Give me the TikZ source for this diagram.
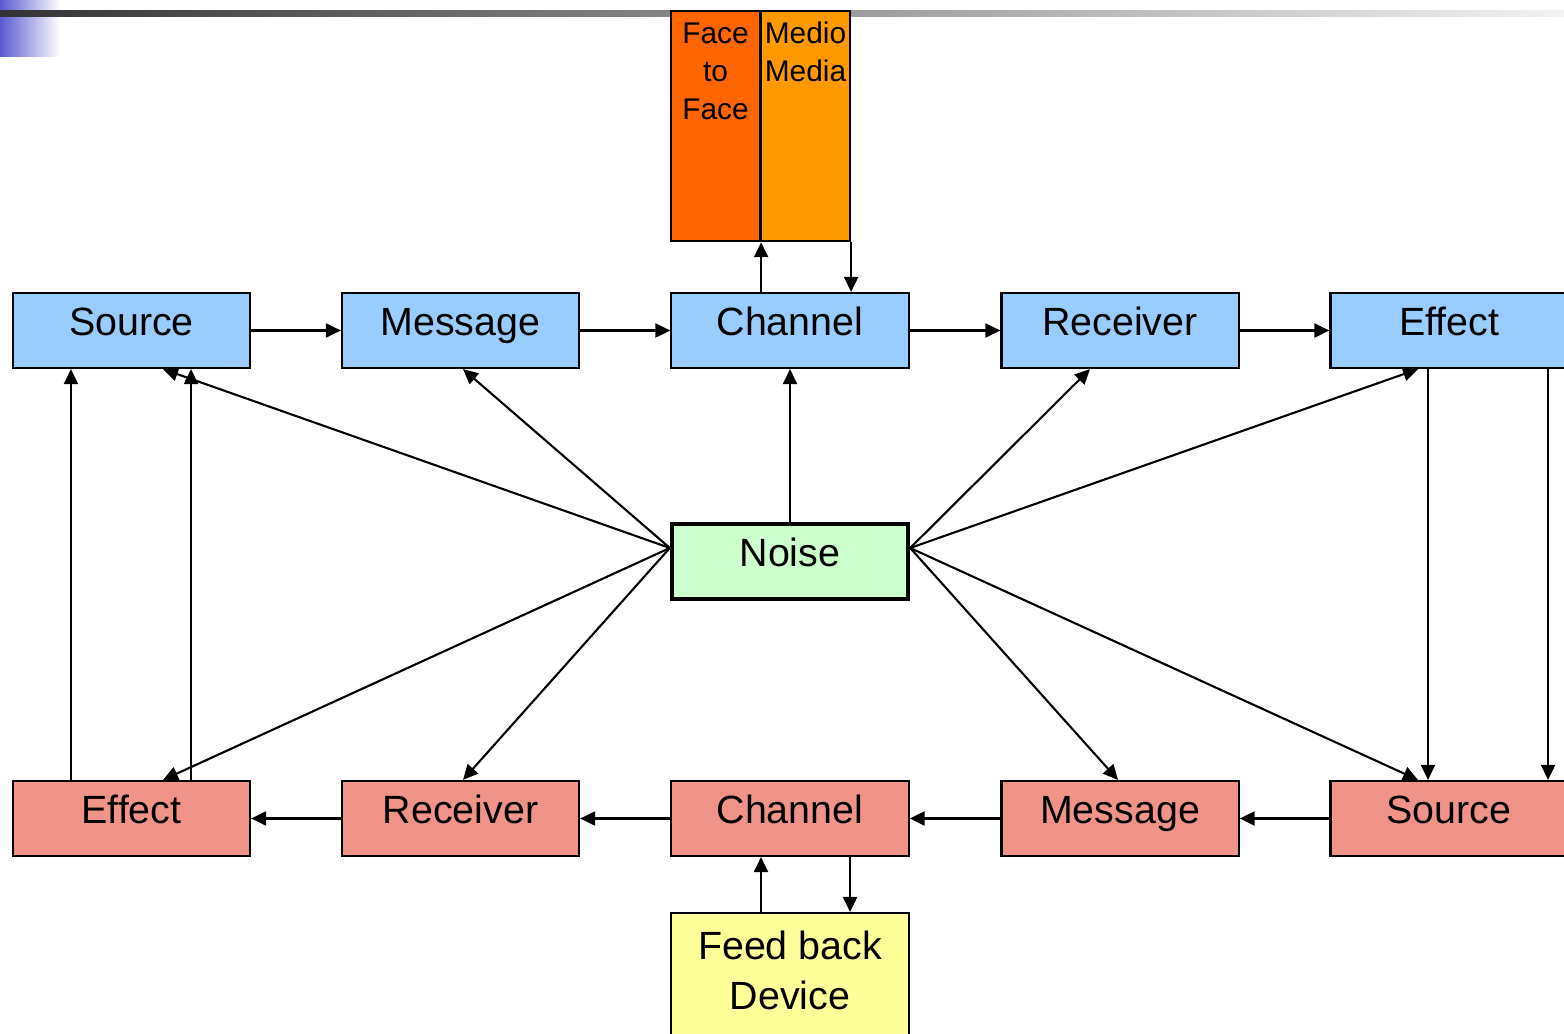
\documentclass[tikz,border=0pt]{standalone}
\usepackage{fontspec}
\setmainfont{Liberation Sans}
\usetikzlibrary{arrows.meta}
\definecolor{topblue}{HTML}{99CCFF}
\definecolor{lowred}{RGB}{240,148,138}
\definecolor{noisegreen}{HTML}{CCFFCC}
\definecolor{faceorange}{HTML}{FF6600}
\definecolor{medioorange}{HTML}{FF9900}
\definecolor{fbyellow}{HTML}{FFFF99}
\definecolor{headblue}{RGB}{90,90,210}
\begin{document}
\begin{tikzpicture}[x=0.01cm, y=-0.01cm,
	box/.style={draw, line width=0.6pt, minimum width=2.37cm, minimum height=0.75cm, inner sep=0pt,
		text height=0.32cm, text depth=0.22cm, font=\fontsize{11.2}{13.5}\selectfont},
	upper/.style={box, fill=topblue},
	lower/.style={box, fill=lowred},
	tall/.style={draw, line width=0.6pt, anchor=north, minimum width=0.89cm, inner xsep=0pt, inner ysep=0.05cm,
		align=center, font=\fontsize{8.5}{10.8}\selectfont},
	arr/.style={-{Triangle[length=0.15cm,width=0.14cm]}, line width=0.6pt}]
	\useasboundingbox (0,0) rectangle (1564,1034);
	
	\shade[left color=headblue, right color=white] (0,0) rectangle (60,57);
	\shade[left color=black!80, right color=black!5] (0,11) rectangle (1564,17);
	
	\node[upper] (srcT) at (131.5,330.5) {Source};
	\node[upper] (msgT) at (460.5,330.5) {Message};
	\node[upper] (chT) at (790,330.5) {Channel};
	\node[upper] (rcvT) at (1120,330.5) {Receiver};
	\node[upper] (effT) at (1449,330.5) {Effect};
	
	\node[lower] (effB) at (131.5,818.5) {Effect};
	\node[lower] (rcvB) at (460.5,818.5) {Receiver};
	\node[lower] (chB) at (790,818.5) {Channel};
	\node[lower] (msgB) at (1120,818.5) {Message};
	\node[lower] (srcB) at (1449,818.5) {Source};
	
	\node[box, fill=noisegreen, line width=1.2pt, minimum width=2.36cm] (noise) at (790,561.5) {Noise};
	
	\node[tall, fill=faceorange, text height=1.035cm, text depth=1.165cm] (face) at (715.5,10) {Face\\to\\Face};
	\node[tall, fill=medioorange, text height=0.655cm, text depth=1.545cm] (medio) at (805.5,10) {Medio\\Media};
	
	\node[draw, line width=0.6pt, anchor=north, fill=fbyellow, minimum width=2.37cm, inner xsep=0pt, inner ysep=0.14cm,
		align=center, text height=0.82cm, text depth=0.5cm, font=\fontsize{11.2}{14.2}\selectfont] (fb) at (790,912) {Feed back\\Device};
	
	\coordinate (nw) at ([yshift=0.135cm]noise.west);
	\coordinate (ne) at ([yshift=0.135cm]noise.east);
	
	\draw[arr] (srcT) -- (msgT);
	\draw[arr] (msgT) -- (chT);
	\draw[arr] (chT) -- (rcvT);
	\draw[arr] (rcvT) -- (effT);
	
	\draw[arr] (srcB) -- (msgB);
	\draw[arr] (msgB) -- (chB);
	\draw[arr] (chB) -- (rcvB);
	\draw[arr] (rcvB) -- (effB);
	
	\draw[arr] (face.south east |- chT.north) -- (face.south east);
	\draw[arr] (medio.south east) -- (medio.south east |- chT.north);
	\draw[arr] (noise) -- (chT);
	
	\draw[arr] (nw) -- ([xshift=0.315cm]srcT.south);
	\draw[arr] (nw) -- ([xshift=0.025cm]msgT.south);
	\draw[arr] (nw) -- ([xshift=0.315cm]effB.north);
	\draw[arr] (nw) -- ([xshift=0.025cm]rcvB.north);
	\draw[arr] (ne) -- ([xshift=-0.3cm]rcvT.south);
	\draw[arr] (ne) -- ([xshift=-0.31cm]effT.south);
	\draw[arr] (ne) -- ([xshift=-0.02cm]msgB.north);
	\draw[arr] (ne) -- ([xshift=-0.31cm]srcB.north);
	
	\draw[arr] ([xshift=-0.605cm]effB.north) -- ([xshift=-0.605cm]srcT.south);
	\draw[arr] ([xshift=0.595cm]effB.north) -- ([xshift=0.595cm]srcT.south);
	\draw[arr] ([xshift=-0.21cm]effT.south) -- ([xshift=-0.21cm]srcB.north);
	\draw[arr] ([xshift=0.99cm]effT.south) -- ([xshift=0.99cm]srcB.north);
	
	\draw[arr] ([xshift=-0.29cm]fb.north) -- ([xshift=-0.29cm]chB.south);
	\draw[arr] ([xshift=0.6cm]chB.south) -- ([xshift=0.6cm]fb.north);
	
\end{tikzpicture}
\end{document}
